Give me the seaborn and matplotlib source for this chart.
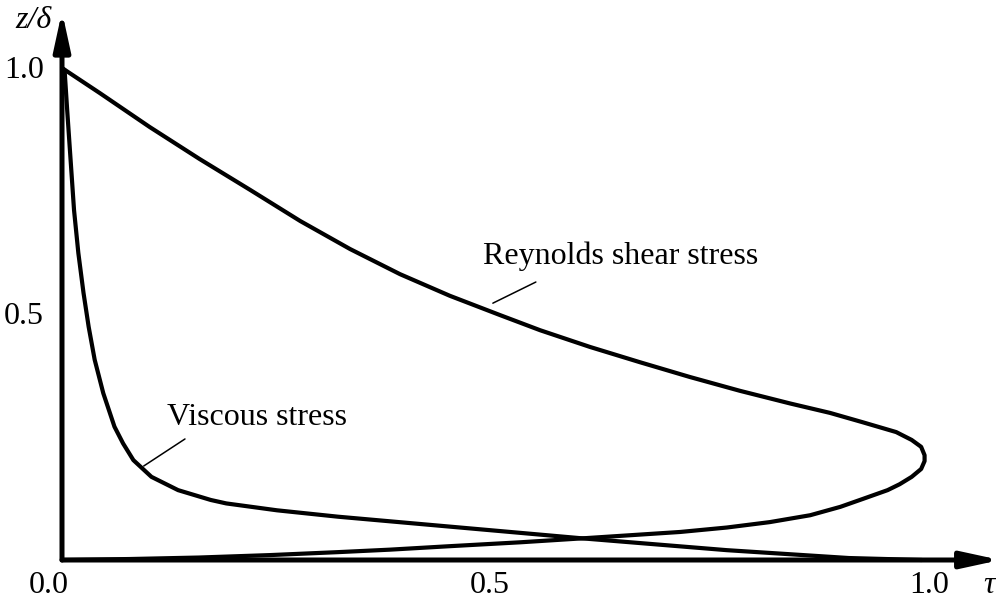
import matplotlib
matplotlib.use("Agg")
import matplotlib.pyplot as plt
import seaborn as sns
from matplotlib.transforms import offset_copy

# ---- data ----
reynolds_tau = [0.0, 0.079, 0.159, 0.242, 0.321, 0.381, 0.450, 0.533, 0.605, 0.719, 0.773,
                0.823, 0.870, 0.905, 0.931, 0.960, 0.974, 0.988, 0.999, 1.003, 1.003,
                0.999, 0.988, 0.970, 0.931, 0.893, 0.847, 0.788, 0.730, 0.672, 0.614,
                0.556, 0.509, 0.451, 0.393, 0.335, 0.277, 0.219, 0.160, 0.102, 0.044, 0.0]
reynolds_z = [0.0, 0.002, 0.005, 0.010, 0.016, 0.021, 0.028, 0.036, 0.044, 0.057, 0.066,
              0.077, 0.091, 0.108, 0.124, 0.142, 0.154, 0.169, 0.185, 0.201, 0.213,
              0.230, 0.244, 0.260, 0.280, 0.299, 0.318, 0.344, 0.372, 0.402, 0.433,
              0.467, 0.498, 0.537, 0.581, 0.632, 0.689, 0.752, 0.815, 0.880, 0.949, 1.0]

viscous_tau = [0.0, 0.003, 0.006, 0.010, 0.014, 0.019, 0.025, 0.031, 0.038, 0.048, 0.061,
               0.071, 0.083, 0.104, 0.135, 0.173, 0.191, 0.250, 0.321, 0.450, 0.605,
               0.773, 0.915, 1.0]
viscous_z = [1.0, 0.996, 0.915, 0.813, 0.711, 0.624, 0.543, 0.474, 0.407, 0.339, 0.271,
             0.237, 0.203, 0.169, 0.142, 0.122, 0.115, 0.101, 0.088, 0.068, 0.044,
             0.020, 0.004, 0.0]

xtick_values = [0.0, 0.5, 1.0]
xtick_labels = ["0.0", "0.5", "1.0"]
ytick_values = [0.5, 1.0]
ytick_labels = ["0.5", "1.0"]

y_axis_label = "z/δ"
x_axis_label = "τ"
reynolds_label = "Reynolds shear stress"
viscous_label = "Viscous stress"

# ---- figure ----
sns.set_style("white")
plt.rcParams["font.family"] = ["Liberation Serif", "DejaVu Serif"]
plt.rcParams["text.color"] = "black"

fig = plt.figure(figsize=(9.96, 6.03), dpi=100)
ax = fig.add_axes([0, 0, 1, 1])
# pixel mapping: x=0 -> 62 px, x=1 -> 922 px ; z=0 -> 560 px, z=1 -> 68 px
ax.set_xlim(-62 / 860, (996 - 62) / 860)
ax.set_ylim((560 - 603) / 492, 560 / 492)
ax.axis("off")

# axes with arrows
arrow_kw = dict(arrowstyle="-|>,head_length=2.3,head_width=0.5", lw=3.6,
                color="black", shrinkA=0, shrinkB=0, mutation_scale=10)
ax.annotate("", xy=(1.091, 0), xytext=(0, 0), arrowprops=arrow_kw, annotation_clip=False)
ax.annotate("", xy=(0, 1.115), xytext=(0, 0), arrowprops=arrow_kw, annotation_clip=False)

# curves
line_kw = dict(color="black", lw=3.0, solid_joinstyle="round", solid_capstyle="round")
sns.lineplot(x=reynolds_tau, y=reynolds_z, sort=False, estimator=None, ax=ax, **line_kw)
sns.lineplot(x=viscous_tau, y=viscous_z, sort=False, estimator=None, ax=ax, **line_kw)

fs = 23
px = 0.72  # points per pixel at dpi 100

# tick labels
x_dx = [-13, -2, 7]
for v, lab, dx in zip(xtick_values, xtick_labels, x_dx):
    tr = offset_copy(ax.transData, fig=fig, x=dx * px, y=-33 * px, units="points")
    ax.text(v, 0, lab, transform=tr, ha="center", va="baseline", fontsize=fs)
for v, lab in zip(ytick_values, ytick_labels):
    tr = offset_copy(ax.transData, fig=fig, x=-18 * px, y=-10 * px, units="points")
    ax.text(0, v, lab, transform=tr, ha="right", va="baseline", fontsize=fs)

# axis labels
ax.text(-0.0547, 1.081, y_axis_label, ha="left", va="baseline", fontsize=fs, style="italic")
ax.text(1.071, -0.067, x_axis_label, ha="left", va="baseline", fontsize=fs, style="italic")

# annotations with leader lines
ax.text(0.4895, 0.6016, reynolds_label, ha="left", va="baseline", fontsize=fs)
ax.plot([0.501, 0.551], [0.522, 0.565], color="black", lw=1.1)
ax.text(0.122, 0.2744, viscous_label, ha="left", va="baseline", fontsize=fs)
ax.plot([0.095, 0.143], [0.191, 0.246], color="black", lw=1.1)

fig.savefig("out.png", dpi=100)
